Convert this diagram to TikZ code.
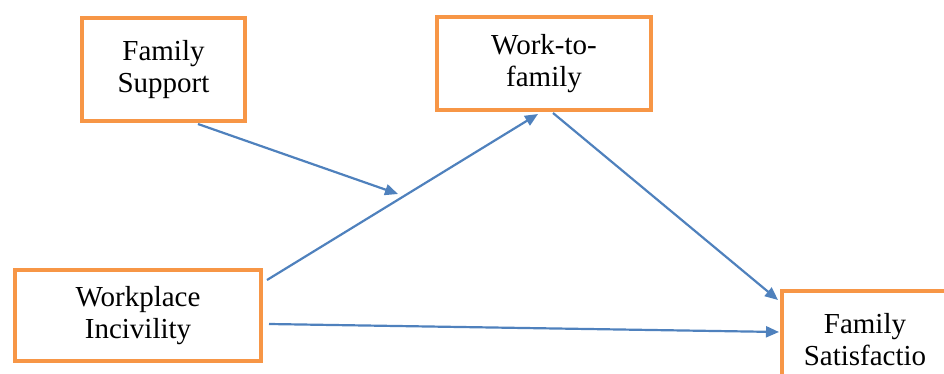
\documentclass[tikz,border=0pt]{standalone}
\usepackage{fontspec}
\setmainfont{Liberation Serif}
\usetikzlibrary{arrows.meta,calc}
\definecolor{boxorange}{HTML}{F79646}
\definecolor{arrowblue}{HTML}{4F81BD}
\begin{document}
\begin{tikzpicture}[x=1pt,y=-1pt,
  box/.style={draw=boxorange, line width=4pt, fill=white, rectangle, inner sep=0pt,
    align=center, font=\fontsize{29}{32}\selectfont},
  link/.style={draw=arrowblue, line width=2.2pt, -{Triangle[length=13pt,width=11pt]}}]
\useasboundingbox (0,0) rectangle (944,374);
\node[box, minimum width=163pt, minimum height=103pt] (fs) at (163.5,69.5) {Family\\Support};
\node[box, minimum width=214pt, minimum height=93pt] (wf) at (544,63.5) {Work-to-\\family};
\node[box, minimum width=246pt, minimum height=91pt] (wi) at (138,315.5) {Workplace\\Incivility};
\node[box, minimum width=166pt, minimum height=97pt] (sat) at (865,339.5) {Family\\Satisfactio};
\coordinate (mid) at (398,194);
\draw[link] ($(fs.south)+(34.5,1)$) -- (mid);
\draw[link] ($(wi.north east)+(4,12)$) -- ($(wf.south)+(-6,2)$);
\draw[link] ($(wf.south)+(9,1)$) -- ($(sat.north west)+(-2,11)$);
\draw[link] ($(wi.east)+(6,8.5)$) -- ($(sat.north west)+(-1,43)$);
\end{tikzpicture}
\end{document}
